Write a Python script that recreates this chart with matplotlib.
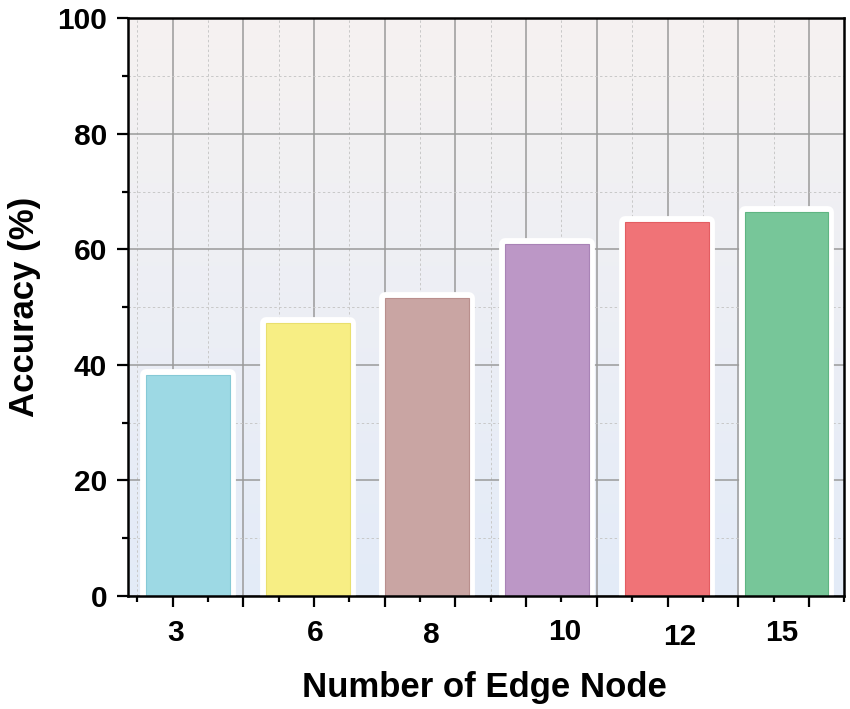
import numpy as np
import matplotlib.pyplot as plt
from matplotlib.ticker import MultipleLocator
import matplotlib.transforms as mtransforms

# データ
edge_nodes = ["3", "6", "8", "10", "12", "15"]
accuracy = [38.2, 47.3, 51.6, 60.9, 64.8, 66.4]
bar_colors = ["#9dd9e4", "#f7ee84", "#c9a5a3", "#bc97c6", "#f07377", "#77c699"]
edge_colors = ["#86c9d6", "#e9df6e", "#b98f8d", "#a983b6", "#e35d62", "#5fb582"]

plt.rcParams['font.family'] = ['Liberation Sans', 'DejaVu Sans']
plt.rcParams['font.weight'] = 'bold'

fig = plt.figure(figsize=(8.5, 7.09), dpi=100)
ax = fig.add_axes([0.1506, 0.1594, 0.8427, 0.8148])

x = np.arange(len(edge_nodes))
ax.set_xlim(-0.5, 5.482)
ax.set_ylim(0, 100)

# 背景のグラデーション
grad = np.linspace(0, 1, 256).reshape(-1, 1)
top_c = np.array([246, 242, 241]) / 255
bot_c = np.array([227, 235, 248]) / 255
img = top_c[None, None, :] * (1 - grad[:, :, None]) + bot_c[None, None, :] * grad[:, :, None]
ax.imshow(img, extent=[0, 1, 0, 1], transform=ax.transAxes, aspect='auto', zorder=0)

# グリッド (x方向の目盛りは棒とは別の間隔)
step = 0.5905
x0 = -0.128
ax.xaxis.set_major_locator(plt.FixedLocator(x0 + step * np.arange(0, 10)))
ax.xaxis.set_minor_locator(plt.FixedLocator(x0 + step * (np.arange(-1, 10) + 0.5)))
ax.yaxis.set_major_locator(MultipleLocator(20))
ax.yaxis.set_minor_locator(MultipleLocator(10))
ax.grid(which='major', color='#9a9a9a', lw=1.1, zorder=1)
ax.grid(which='minor', color='#c8c8c8', lw=0.7, ls=(0, (2.5, 2.5)), zorder=1)

# 白い縁取り → 本体
ax.bar(x, accuracy, width=0.70, color='white', edgecolor='white', lw=8.5,
       joinstyle='round', zorder=2)
ax.bar(x, accuracy, width=0.70, color=bar_colors, edgecolor=edge_colors, lw=0.8, zorder=3)

# 目盛り
ax.tick_params(axis='both', which='major', direction='out', length=8, width=1.6,
               labelsize=21.5, pad=7)
ax.tick_params(axis='both', which='minor', direction='out', length=4, width=1.6)
ax.set_xticklabels([])
for sp in ax.spines.values():
    sp.set_linewidth(1.8)
    sp.set_zorder(5)

# x の目盛りラベル (元の図では手で置かれている)
label_dx = [-0.10, 0.06, 0.035, 0.15, 0.11, -0.04]
label_px = [633, 633, 635, 632, 637, 633]
trans = mtransforms.blended_transform_factory(ax.transData, fig.transFigure)
for xi, lab, dx, py in zip(x, edge_nodes, label_dx, label_px):
    ax.text(xi + dx, 1 - py / 709, lab, transform=trans, ha='center', va='center',
            fontsize=21.5, fontweight='bold')

ax.set_xlabel("Number of Edge Node", fontsize=25, fontweight='bold', va='center')
ax.xaxis.set_label_coords(0.497, -0.159)
ax.set_ylabel("Accuracy (%)", fontsize=25, fontweight='bold', va='center')
ax.yaxis.set_label_coords(-0.145, 0.50)

fig.savefig("out.png", dpi=100)
